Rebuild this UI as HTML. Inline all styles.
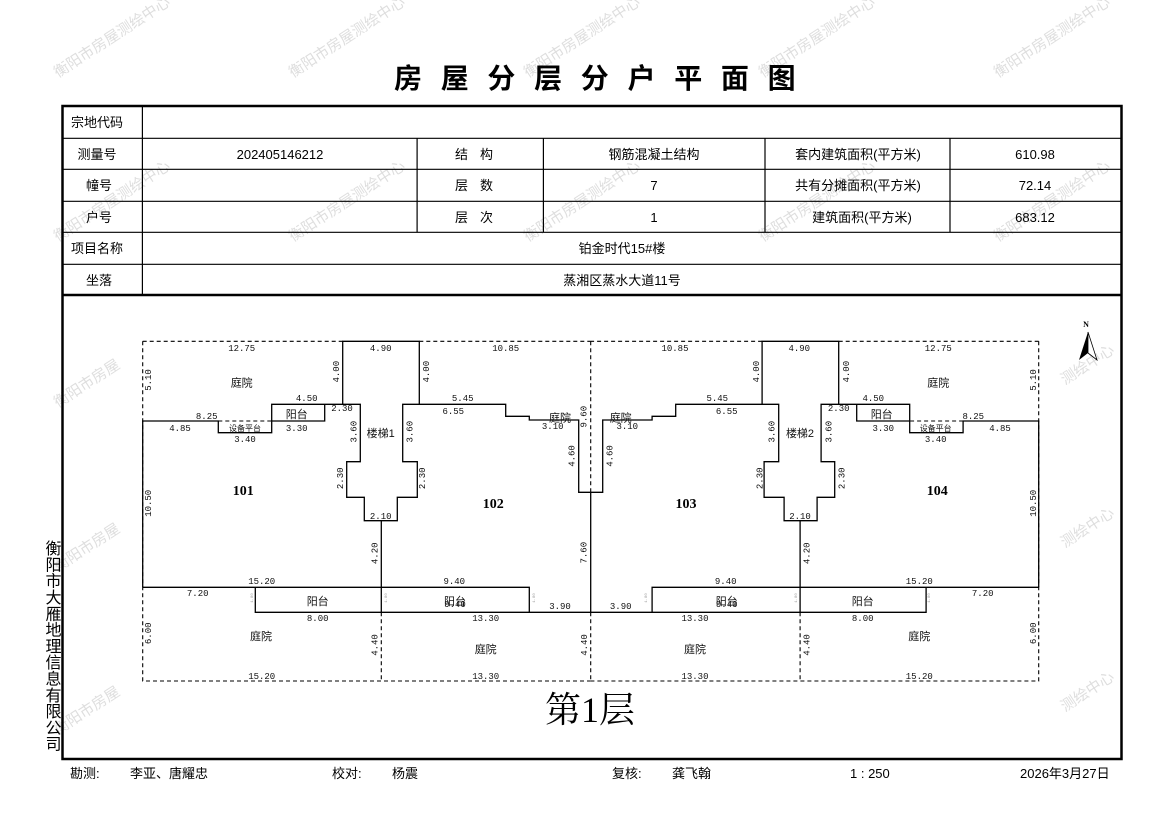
<!DOCTYPE html>
<html><head><meta charset="utf-8"><style>
html,body{margin:0;padding:0;background:#fff;}
svg{display:block;}
.t{font-family:"Liberation Sans","Noto Sans CJK SC",sans-serif;font-size:13px;fill:#000;}
.d{font-family:"Liberation Mono",monospace;font-size:9px;fill:#111;}
.c{font-family:"Liberation Sans","Noto Sans CJK SC",sans-serif;font-size:11px;fill:#111;}
.r{font-family:"Liberation Serif",serif;font-size:14px;font-weight:bold;fill:#000;}
.w{font-family:"Liberation Sans","Noto Sans CJK SC",sans-serif;font-size:15px;fill:#dedede;}
.tiny{font-family:"Liberation Mono",monospace;font-size:4px;fill:#999;}
</style></head><body>
<svg width="1169" height="827" viewBox="0 0 1169 827" xmlns="http://www.w3.org/2000/svg">
<rect width="1169" height="827" fill="#fff"/>
<g class="w">
<text transform="translate(58,78) rotate(-33)">衡阳市房屋测绘中心</text>
<text transform="translate(293,78) rotate(-33)">衡阳市房屋测绘中心</text>
<text transform="translate(528,78) rotate(-33)">衡阳市房屋测绘中心</text>
<text transform="translate(763,78) rotate(-33)">衡阳市房屋测绘中心</text>
<text transform="translate(998,78) rotate(-33)">衡阳市房屋测绘中心</text>
<text transform="translate(58,242) rotate(-33)">衡阳市房屋测绘中心</text>
<text transform="translate(293,242) rotate(-33)">衡阳市房屋测绘中心</text>
<text transform="translate(528,242) rotate(-33)">衡阳市房屋测绘中心</text>
<text transform="translate(763,242) rotate(-33)">衡阳市房屋测绘中心</text>
<text transform="translate(998,242) rotate(-33)">衡阳市房屋测绘中心</text>
<text transform="translate(58,408) rotate(-33)">衡阳市房屋</text>
<text transform="translate(58,572) rotate(-33)">衡阳市房屋</text>
<text transform="translate(58,735) rotate(-33)">衡阳市房屋</text>
<text transform="translate(1065,385) rotate(-33)">测绘中心</text>
<text transform="translate(1065,548) rotate(-33)">测绘中心</text>
<text transform="translate(1065,712) rotate(-33)">测绘中心</text>
</g>
<text x="394" y="88" style="font-family:'Liberation Sans','Noto Sans CJK SC',sans-serif;font-size:28px;font-weight:bold;letter-spacing:18.7px">房屋分层分户平面图</text>
<g stroke="#000" fill="none">
<rect x="62.5" y="106" width="1059" height="653" stroke-width="2.5"/>
<line x1="62.5" y1="295" x2="1121.5" y2="295" stroke-width="2.5"/>
<g stroke-width="1.2">
<line x1="62.5" y1="138.3" x2="1121.5" y2="138.3"/>
<line x1="62.5" y1="169.3" x2="1121.5" y2="169.3"/>
<line x1="62.5" y1="201.3" x2="1121.5" y2="201.3"/>
<line x1="62.5" y1="232.3" x2="1121.5" y2="232.3"/>
<line x1="62.5" y1="264.3" x2="1121.5" y2="264.3"/>
<line x1="142.4" y1="106" x2="142.4" y2="295"/>
<line x1="417.1" y1="138.3" x2="417.1" y2="232.3"/>
<line x1="543.4" y1="138.3" x2="543.4" y2="232.3"/>
<line x1="765" y1="138.3" x2="765" y2="232.3"/>
<line x1="950" y1="138.3" x2="950" y2="232.3"/>
</g></g>
<g class="t" text-anchor="middle">
<text x="97" y="127">宗地代码</text>
<text x="97" y="159">测量号</text>
<text x="99" y="190">幢号</text>
<text x="99" y="222">户号</text>
<text x="97" y="253">项目名称</text>
<text x="99" y="285">坐落</text>
<text x="280" y="159">202405146212</text>
<text x="480" y="159" style="letter-spacing:12px">结构</text>
<text x="480" y="190" style="letter-spacing:12px">层数</text>
<text x="480" y="222" style="letter-spacing:12px">层次</text>
<text x="654" y="159">钢筋混凝土结构</text>
<text x="654" y="190">7</text>
<text x="654" y="222">1</text>
<text x="858" y="159">套内建筑面积(平方米)</text>
<text x="858" y="190">共有分摊面积(平方米)</text>
<text x="862" y="222">建筑面积(平方米)</text>
<text x="1035" y="159">610.98</text>
<text x="1035" y="190">72.14</text>
<text x="1035" y="222">683.12</text>
<text x="622" y="253">铂金时代15#楼</text>
<text x="622" y="285">蒸湘区蒸水大道11号</text>
</g>
<text x="51" y="540" style="font-family:'Liberation Sans','Noto Sans CJK SC',sans-serif;font-size:16px;writing-mode:vertical-rl;letter-spacing:0.3px" text-anchor="start">衡阳市大雁地理信息有限公司</text>
<g fill="none" stroke="#000" stroke-width="1.3">
<g id="half">
<path d="M142.7,587.3 V421 H218.3 V432.7 H271.7 V404.3 H360.3 V461.7 H346.7 V497.3 H364.3 V520.7 H397.3 V497.3 H417.3 V461.7 H402.7 V404.3 H505.7 V416.3 H529.3 V420 H578.7 V492.3 H590.7"/>
<path d="M271.7,421 H324.7 V404.3"/>
<path d="M342.7,404.3 V341.3 H419.3 V404.3"/>
<path d="M381.3,520.7 V612.3"/>
<path d="M142.7,587.3 H529.3 V612.3 H255.3 V587.3"/>
<path d="M529.3,612.3 H590.7"/>
<g stroke-dasharray="4,3" stroke-width="1.1">
<path d="M218.3,421 H271.7"/>
<path d="M142.7,341.3 H342.7 M419.3,341.3 H590.7"/>
<path d="M142.7,341.3 V681 H590.7"/>
<path d="M381.3,612.3 V681"/>
</g>
</g>
<use href="#half" transform="matrix(-1,0,0,1,1181.4,0)"/>
<path d="M590.7,492.3 V612.3"/>
<path d="M590.7,341.3 V492.3 M590.7,612.3 V681" stroke-dasharray="4,3" stroke-width="1.1"/>
</g>
<g class="d" text-anchor="middle">
<text x="241.7" y="351">12.75</text><text x="380.7" y="351">4.90</text><text x="505.7" y="351">10.85</text>
<text x="675" y="351">10.85</text><text x="799.3" y="351">4.90</text><text x="938.3" y="351">12.75</text>
<text x="306.7" y="401">4.50</text><text x="873.3" y="401">4.50</text>
<text x="342" y="411">2.30</text><text x="838.7" y="411">2.30</text>
<text x="462.7" y="401">5.45</text><text x="717.3" y="401">5.45</text>
<text x="453.3" y="414">6.55</text><text x="726.7" y="414">6.55</text>
<text x="206.7" y="419">8.25</text><text x="973.3" y="419">8.25</text>
<text x="180" y="431">4.85</text><text x="1000" y="431">4.85</text>
<text x="296.7" y="431">3.30</text><text x="883.3" y="431">3.30</text>
<text x="245" y="442">3.40</text><text x="935.7" y="442">3.40</text>
<text x="552.7" y="429">3.10</text><text x="627.3" y="429">3.10</text>
<text x="380.7" y="519">2.10</text><text x="800" y="519">2.10</text>
<text x="261.7" y="584">15.20</text><text x="454.3" y="584">9.40</text>
<text x="725.7" y="584">9.40</text><text x="919.3" y="584">15.20</text>
<text x="197.7" y="596">7.20</text><text x="982.7" y="596">7.20</text>
<text x="560" y="609">3.90</text><text x="620.7" y="609">3.90</text>
<text x="455" y="607">9.40</text><text x="726.7" y="607">9.40</text>
<text x="317.7" y="621">8.00</text><text x="485.7" y="621">13.30</text>
<text x="695" y="621">13.30</text><text x="862.7" y="621">8.00</text>
<text x="261.7" y="679">15.20</text><text x="485.7" y="679">13.30</text>
<text x="695" y="679">13.30</text><text x="919.3" y="679">15.20</text>
</g>
<g class="d" text-anchor="middle">
<text transform="translate(151,380) rotate(-90)">5.10</text>
<text transform="translate(1036,380) rotate(-90)">5.10</text>
<text transform="translate(339,371.7) rotate(-90)">4.00</text>
<text transform="translate(429,371.7) rotate(-90)">4.00</text>
<text transform="translate(759,371.7) rotate(-90)">4.00</text>
<text transform="translate(849,371.7) rotate(-90)">4.00</text>
<text transform="translate(586.5,416.7) rotate(-90)">9.60</text>
<text transform="translate(356.3,431.7) rotate(-90)">3.60</text>
<text transform="translate(412.3,431.7) rotate(-90)">3.60</text>
<text transform="translate(774.7,431.7) rotate(-90)">3.60</text>
<text transform="translate(831.3,431.7) rotate(-90)">3.60</text>
<text transform="translate(574.7,456) rotate(-90)">4.60</text>
<text transform="translate(612.3,456) rotate(-90)">4.60</text>
<text transform="translate(343,478.3) rotate(-90)">2.30</text>
<text transform="translate(425,478.3) rotate(-90)">2.30</text>
<text transform="translate(762.5,478.3) rotate(-90)">2.30</text>
<text transform="translate(844.5,478.3) rotate(-90)">2.30</text>
<text transform="translate(151,503.3) rotate(-90)">10.50</text>
<text transform="translate(1036,503.3) rotate(-90)">10.50</text>
<text transform="translate(377.3,553.3) rotate(-90)">4.20</text>
<text transform="translate(809.3,553.3) rotate(-90)">4.20</text>
<text transform="translate(586.3,552.7) rotate(-90)">7.60</text>
<text transform="translate(151,633.3) rotate(-90)">6.00</text>
<text transform="translate(1036,633.3) rotate(-90)">6.00</text>
<text transform="translate(377.3,645) rotate(-90)">4.40</text>
<text transform="translate(587,645) rotate(-90)">4.40</text>
<text transform="translate(809.3,645) rotate(-90)">4.40</text>
</g>
<g class="tiny" text-anchor="middle">
<text transform="translate(253,598) rotate(-90)">1.80</text>
<text transform="translate(387,598) rotate(-90)">1.80</text>
<text transform="translate(535,598) rotate(-90)">1.80</text>
<text transform="translate(647,598) rotate(-90)">1.80</text>
<text transform="translate(797,598) rotate(-90)">1.80</text>
<text transform="translate(930,598) rotate(-90)">1.80</text>
</g>
<g class="c" text-anchor="middle">
<text x="241.7" y="386.5">庭院</text><text x="938.3" y="386.5">庭院</text>
<text x="296.7" y="418">阳台</text><text x="881.7" y="418">阳台</text>
<text x="245" y="431" style="font-size:8px">设备平台</text><text x="935.7" y="431" style="font-size:8px">设备平台</text>
<text x="560" y="421.5">庭院</text><text x="620.7" y="421.5">庭院</text>
<text x="380.7" y="437">楼梯1</text><text x="800" y="437">楼梯2</text>
<text x="317.7" y="605">阳台</text><text x="455" y="605">阳台</text>
<text x="726.7" y="605">阳台</text><text x="862.7" y="605">阳台</text>
<text x="261" y="640">庭院</text><text x="919.3" y="640">庭院</text>
<text x="485.7" y="653">庭院</text><text x="695" y="653">庭院</text>
</g>
<g class="r" text-anchor="middle">
<text x="243.3" y="495">101</text><text x="493.3" y="508">102</text>
<text x="686" y="508">103</text><text x="937.3" y="495">104</text>
</g>
<text x="1086" y="327" text-anchor="middle" style="font-family:'Liberation Serif',serif;font-size:8px;font-weight:bold">N</text>
<path d="M1088,332 L1079,360 L1088,353 Z" fill="#000"/>
<path d="M1088,332 L1097,360 L1088,353 Z" fill="#fff" stroke="#000" stroke-width="0.8"/>
<text x="590" y="722" text-anchor="middle" style="font-family:'Liberation Serif','Noto Serif CJK SC',serif;font-size:36px">第1层</text>
<g class="t">
<text x="70" y="778">勘测:</text>
<text x="130" y="778">李亚、唐耀忠</text>
<text x="332" y="778">校对:</text>
<text x="392" y="778">杨震</text>
<text x="612" y="778">复核:</text>
<text x="672" y="778">龚飞翰</text>
<text x="850" y="778">1 : 250</text>
<text x="1020" y="778">2026年3月27日</text>
</g>
</svg>
</body></html>
